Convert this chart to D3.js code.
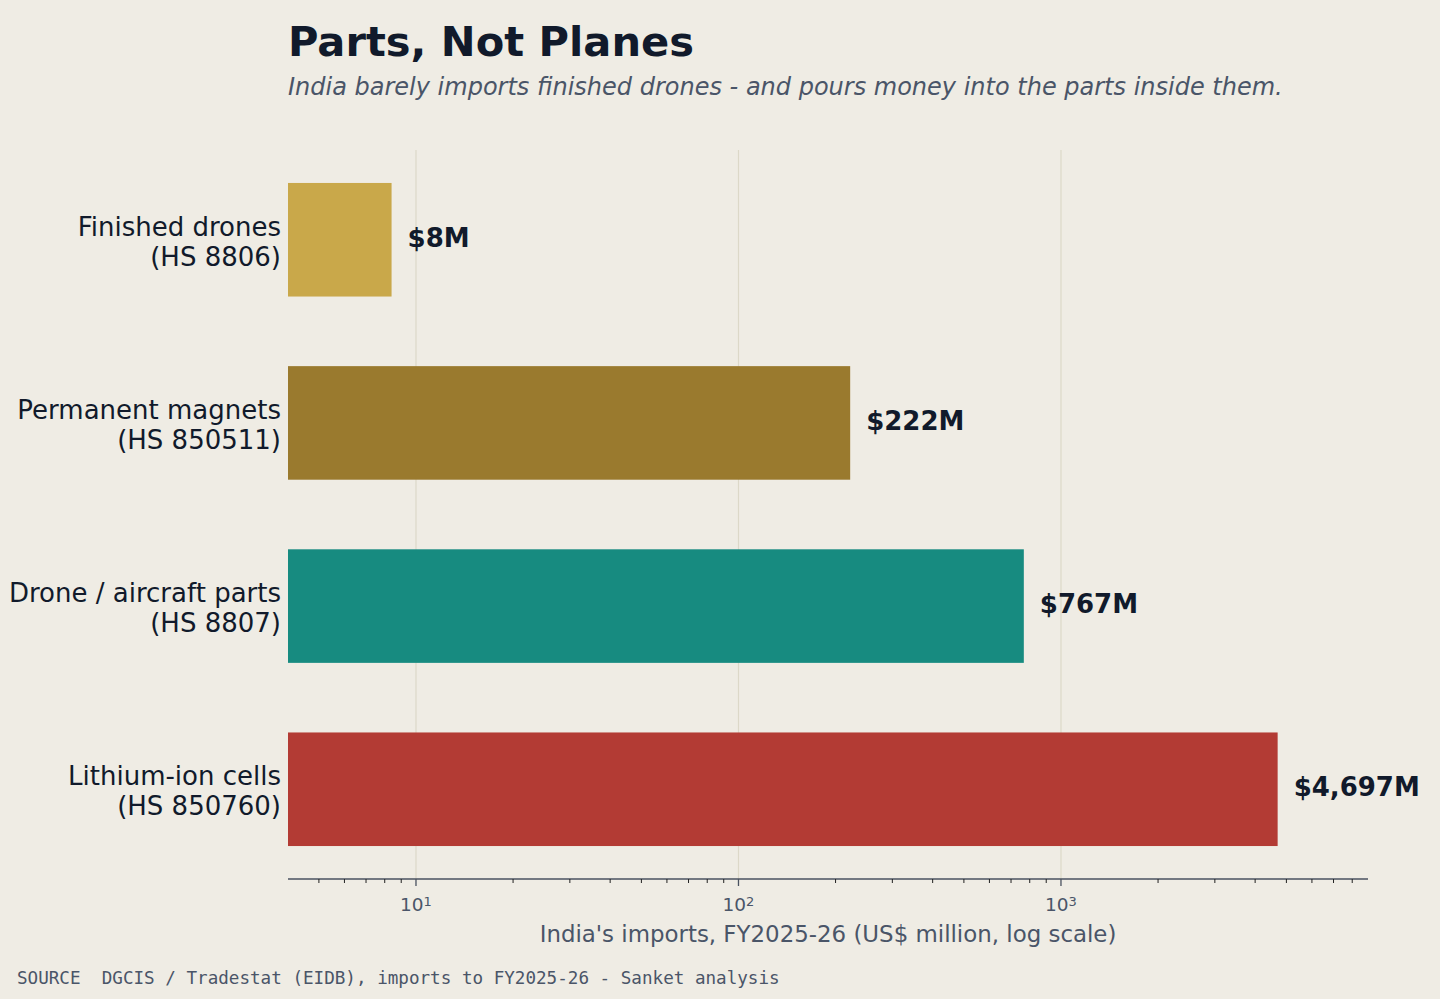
<!DOCTYPE html>
<html>
<head>
<meta charset="utf-8">
<script src="https://cdn.jsdelivr.net/npm/d3@7"></script>
<style>
  body { margin: 0; background: #efece4; }
  svg { display: block; }
</style>
</head>
<body>
<div id="chart"></div>
<script>
const names = ["Finished drones", "Permanent magnets", "Drone / aircraft parts", "Lithium-ion cells"];
const codes = ["(HS 8806)", "(HS 850511)", "(HS 8807)", "(HS 850760)"];
const values = [8.4, 222, 767, 4697];
const colors = ["#c9a84a", "#9a7a2e", "#178b80", "#b33b34"];
const majorTicks = [10, 100, 1000];

function drawChart(id) {
  let width = 1440, height = 999;
  let left = 288, right = 1368, top = 150, bottom = 879;

  let svg = d3.select(`#${id}`).append("svg").attr("width", width).attr("height", height);
  svg.append("rect").attr("width", width).attr("height", height).attr("fill", "#efece4");

  let x = d3.scaleLog().domain([4.01, 8954]).range([left, right]);
  let y = d3.scaleBand().domain(names).range([top, bottom]).paddingInner(0.38).paddingOuter(0.18);

  // grid
  svg.selectAll(".grid").data(majorTicks).enter().append("line")
    .attr("x1", d => x(d)).attr("x2", d => x(d))
    .attr("y1", top).attr("y2", bottom)
    .attr("stroke", "#dcd8c8").attr("stroke-width", 1.2);

  // bars
  svg.selectAll(".bar").data(values).enter().append("rect")
    .attr("x", left)
    .attr("y", (d, i) => y(names[i]))
    .attr("width", d => x(d) - left)
    .attr("height", y.bandwidth())
    .attr("fill", (d, i) => colors[i]);

  // value labels
  let fmt = d3.format(",.0f");
  svg.selectAll(".val").data(values).enter().append("text")
    .attr("x", d => x(d) + 16)
    .attr("y", (d, i) => y(names[i]) + y.bandwidth() / 2 - 2)
    .attr("dominant-baseline", "central")
    .attr("font-family", "DejaVu Sans").attr("font-weight", "bold").attr("font-size", 26)
    .attr("fill", "#111a2b")
    .text(d => `$${fmt(d)}M`);

  // category labels
  names.forEach((n, i) => {
    let cy = y(n) + y.bandwidth() / 2;
    let t = svg.append("text").attr("text-anchor", "end")
      .attr("font-family", "DejaVu Sans").attr("font-size", 26).attr("fill", "#111a2b");
    t.append("tspan").attr("x", left - 7).attr("y", cy - 4).text(n);
    t.append("tspan").attr("x", left - 7).attr("y", cy + 26).text(codes[i]);
  });

  // x axis
  let axis = svg.append("g").attr("transform", `translate(0,${bottom})`);
  axis.append("line").attr("x1", left).attr("x2", right).attr("stroke", "#4a5260").attr("stroke-width", 1.6);
  let minor = x.ticks().filter(d => majorTicks.indexOf(d) < 0);
  axis.selectAll(".minor").data(minor).enter().append("line")
    .attr("x1", d => x(d)).attr("x2", d => x(d)).attr("y1", 0).attr("y2", 4)
    .attr("stroke", "#222").attr("stroke-width", 1);
  axis.selectAll(".major").data(majorTicks).enter().append("line")
    .attr("x1", d => x(d)).attr("x2", d => x(d)).attr("y1", 0).attr("y2", 7)
    .attr("stroke", "#4a5260").attr("stroke-width", 1.3);
  let tl = axis.selectAll(".tl").data(majorTicks).enter().append("text")
    .attr("x", d => x(d)).attr("y", 32).attr("text-anchor", "middle")
    .attr("font-family", "DejaVu Sans").attr("font-size", 18.5).attr("fill", "#4a5568");
  tl.append("tspan").text("10");
  tl.append("tspan").attr("dy", -5).attr("font-size", 13).text(d => Math.round(Math.log10(d)));

  axis.append("text").attr("x", (left + right) / 2).attr("y", 63).attr("text-anchor", "middle")
    .attr("font-family", "DejaVu Sans").attr("font-size", 22.9).attr("fill", "#4a5568")
    .text("India's imports, FY2025-26 (US$ million, log scale)");

  // titles
  svg.append("text").attr("x", left).attr("y", 56)
    .attr("font-family", "DejaVu Sans").attr("font-weight", "bold").attr("font-size", 41.6)
    .attr("fill", "#111a2b").text("Parts, Not Planes");
  svg.append("text").attr("x", left).attr("y", 95)
    .attr("font-family", "DejaVu Sans").attr("font-style", "italic").attr("font-size", 24)
    .attr("fill", "#4a5568")
    .text("India barely imports finished drones - and pours money into the parts inside them.");

  svg.append("text").attr("x", 17).attr("y", 984).attr("xml:space", "preserve")
    .style("white-space", "pre")
    .attr("font-family", "DejaVu Sans Mono").attr("font-size", 17.6).attr("fill", "#4a5568")
    .text("SOURCE  DGCIS / Tradestat (EIDB), imports to FY2025-26 - Sanket analysis");
}

drawChart("chart");
</script>
</body>
</html>
